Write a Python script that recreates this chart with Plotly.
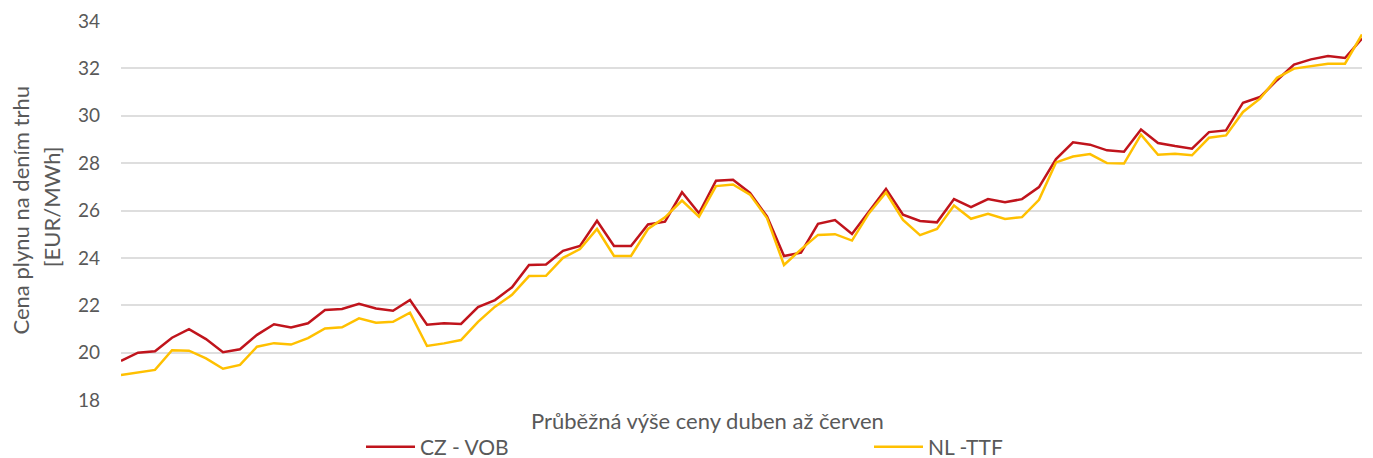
import plotly.graph_objects as go

# category index (trading days, April - June)
days = list(range(1, 75))

cz_vob = [19.65, 20.00, 20.06, 20.63, 20.99, 20.57, 20.02, 20.14, 20.75, 21.20,
          21.06, 21.24, 21.80, 21.84, 22.06, 21.86, 21.77, 22.22, 21.18, 21.24,
          21.21, 21.92, 22.22, 22.76, 23.70, 23.72, 24.30, 24.50, 25.57, 24.50,
          24.50, 25.41, 25.53, 26.77, 25.88, 27.26, 27.30, 26.74, 25.75, 24.08,
          24.22, 25.44, 25.60, 25.01, 25.96, 26.91, 25.82, 25.56, 25.50, 26.48,
          26.14, 26.48, 26.35, 26.48, 26.99, 28.17, 28.88, 28.78, 28.54, 28.48,
          29.42, 28.85, 28.72, 28.61, 29.31, 29.38, 30.55, 30.79, 31.50, 32.16,
          32.38, 32.52, 32.44, 33.26]

nl_ttf = [19.06, 19.18, 19.27, 20.10, 20.08, 19.76, 19.32, 19.48, 20.25, 20.40,
          20.34, 20.61, 21.02, 21.07, 21.45, 21.26, 21.30, 21.69, 20.28, 20.39,
          20.53, 21.30, 21.94, 22.44, 23.23, 23.24, 24.00, 24.37, 25.22, 24.08,
          24.08, 25.22, 25.71, 26.42, 25.74, 27.03, 27.10, 26.67, 25.68, 23.70,
          24.36, 24.97, 25.00, 24.73, 25.89, 26.76, 25.60, 24.96, 25.22, 26.21,
          25.65, 25.86, 25.64, 25.72, 26.45, 28.03, 28.28, 28.38, 28.00, 27.98,
          29.20, 28.35, 28.40, 28.33, 29.07, 29.17, 30.16, 30.72, 31.60, 31.99,
          32.10, 32.20, 32.20, 33.43]

y_ticks = [18, 20, 22, 24, 26, 28, 30, 32, 34]

series_names = ["CZ - VOB", "NL -TTF"]
x_title = "Průběžná výše ceny duben až červen"
y_title_1 = "Cena plynu na dením trhu"
y_title_2 = "[EUR/MWh]"

FONT = "Lato"
GREY = "#595959"

fig = go.Figure()
fig.add_trace(go.Scatter(x=days, y=cz_vob, mode="lines", name=series_names[0],
                         line=dict(color="#C0141C", width=2.5)))
fig.add_trace(go.Scatter(x=days, y=nl_ttf, mode="lines", name=series_names[1],
                         line=dict(color="#FFC000", width=2.5)))

# the page body adds an 8 px offset, so the figure is 8 px smaller and shifted
fig.update_layout(
    width=1365, height=450,
    margin=dict(l=113, r=11, t=13, b=58, autoexpand=False),
    paper_bgcolor="white", plot_bgcolor="white",
    font=dict(family=FONT, color=GREY, size=19),
    showlegend=True,
    legend=dict(orientation="h", x=(361 - 121) / 1241, xanchor="left",
                y=(400 - 447) / 379, yanchor="middle",
                itemwidth=49, entrywidth=444, entrywidthmode="pixels",
                font=dict(family=FONT, color=GREY, size=21),
                bgcolor="rgba(0,0,0,0)", borderwidth=0),
    xaxis=dict(range=[days[0], days[-1]], showticklabels=False, showgrid=False,
               zeroline=False, showline=False, ticks=""),
    yaxis=dict(range=[y_ticks[0], y_ticks[-1]], tickvals=y_ticks,
               showgrid=True, gridcolor="#DEDEDE", gridwidth=2,
               zeroline=False, showline=False, ticks="",
               ticklabelstandoff=20,
               tickfont=dict(family=FONT, color=GREY, size=19)),
    annotations=[
        dict(text=x_title, xref="paper", yref="paper",
             x=(707 - 121) / 1241, y=(400 - 420) / 379,
             xanchor="center", yanchor="middle", showarrow=False,
             font=dict(family=FONT, color=GREY, size=22)),
        dict(text=y_title_1, xref="paper", yref="paper",
             x=(20 - 121) / 1241, y=0.5, xanchor="center", yanchor="middle",
             textangle=-90, showarrow=False,
             font=dict(family=FONT, color=GREY, size=22)),
        dict(text=y_title_2, xref="paper", yref="paper",
             x=(51.5 - 121) / 1241, y=0.51, xanchor="center", yanchor="middle",
             textangle=-90, showarrow=False,
             font=dict(family=FONT, color=GREY, size=22)),
    ],
)

fig.write_html("out.html")
